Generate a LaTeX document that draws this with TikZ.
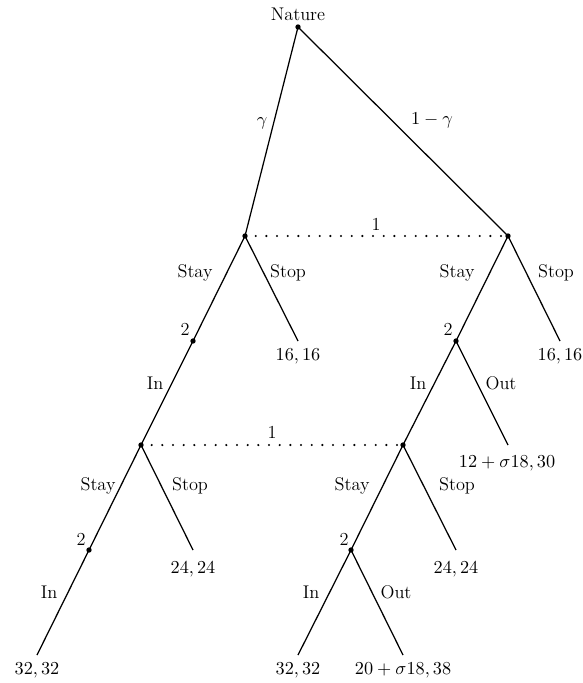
\documentclass[tikz,border=0pt]{standalone}
\begin{document}
\begin{tikzpicture}[x=0.6pt,y=-0.6pt,
  dot/.style={circle,fill=black,inner sep=0pt,minimum size=3.2pt},
  edge/.style={line width=0.75pt},
  info/.style={line width=1.4pt,line cap=round,dash pattern=on 0pt off 6.4pt},
  lbl/.style={inner sep=0pt,font=\fontsize{11}{13}\selectfont}]
\useasboundingbox (0,0) rectangle (582,683);
% decision nodes
\node[dot] (N) at (298,27) {};
\node[dot] (L1) at (245,236) {};
\node[dot] (R1) at (508,236) {};
\node[dot] (L2) at (193,341) {};
\node[dot] (R2) at (456,341) {};
\node[dot] (L3) at (141,445) {};
\node[dot] (R3) at (403,445) {};
\node[dot] (L4) at (89,550) {};
\node[dot] (R4) at (351,550) {};
% terminal points
\coordinate (A) at (298,341);
\coordinate (B) at (560,341);
\coordinate (C) at (508,445);
\coordinate (D) at (193,550);
\coordinate (E) at (456,550);
\coordinate (F) at (37,655);
\coordinate (G) at (298,655);
\coordinate (H) at (403,655);
% edges
\draw[edge] (N.center) -- (L1.center);
\draw[edge] (N.center) -- (R1.center);
\draw[edge] (L1.center) -- (L2.center);
\draw[edge] (L1.center) -- (A);
\draw[edge] (R1.center) -- (R2.center);
\draw[edge] (R1.center) -- (B);
\draw[edge] (L2.center) -- (L3.center);
\draw[edge] (R2.center) -- (R3.center);
\draw[edge] (R2.center) -- (C);
\draw[edge] (L3.center) -- (L4.center);
\draw[edge] (L3.center) -- (D);
\draw[edge] (R3.center) -- (R4.center);
\draw[edge] (R3.center) -- (E);
\draw[edge] (L4.center) -- (F);
\draw[edge] (R4.center) -- (G);
\draw[edge] (R4.center) -- (H);
% information sets
\draw[info] (L1.center) -- (R1.center);
\draw[info] (L3.center) -- (R3.center);
% labels
\node[lbl] (tN) at (298,14) {Nature};
\node[lbl] (tg) at (262,123) {$\gamma$};
\node[lbl] (tmg) at (432,120) {$1-\gamma$};
\node[lbl] (ti1) at (376,224) {1};
\node[lbl] (ti2) at (272,432) {1};
\node[lbl] (s1) at (195,273) {Stay};
\node[lbl] (p1) at (288,273) {Stop};
\node[lbl] (s2) at (457,273) {Stay};
\node[lbl] (p2) at (556,273) {Stop};
\node[lbl] (n21) at (185,329) {2};
\node[lbl] (n22) at (448,329) {2};
\node[lbl] (n23) at (81,539) {2};
\node[lbl] (n24) at (344,539) {2};
\node[lbl] (i1) at (155,383) {In};
\node[lbl] (i2) at (418,383) {In};
\node[lbl] (o2) at (501,383) {Out};
\node[lbl] (s3) at (98,486) {Stay};
\node[lbl] (p3) at (190,486) {Stop};
\node[lbl] (s4) at (352,486) {Stay};
\node[lbl] (p4) at (457,486) {Stop};
\node[lbl] (i3) at (49,592) {In};
\node[lbl] (i4) at (311,592) {In};
\node[lbl] (o4) at (396,592) {Out};
\node[lbl] (vA) at (298,356) {$16,16$};
\node[lbl] (vB) at (560,356) {$16,16$};
\node[lbl] (vC) at (507,463) {$12+\sigma18,30$};
\node[lbl] (vD) at (193,569) {$24,24$};
\node[lbl] (vE) at (456,569) {$24,24$};
\node[lbl] (vF) at (37,670) {$32,32$};
\node[lbl] (vG) at (298,670) {$32,32$};
\node[lbl] (vH) at (403,670) {$20+\sigma18,38$};
\end{tikzpicture}
\end{document}
